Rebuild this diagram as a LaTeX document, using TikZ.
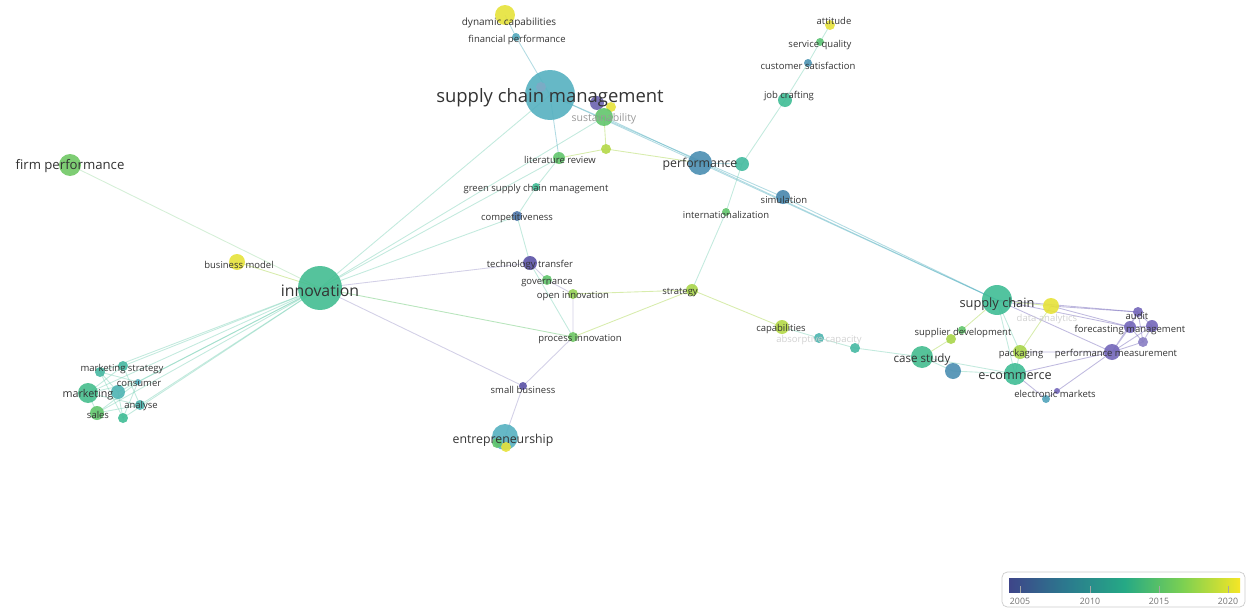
\documentclass[tikz,border=0pt]{standalone}
\usepackage{fontspec}
\setmainfont{Open Sans}
\usepackage{tikz}

\definecolor{vpurple}{HTML}{5B52A6}
\definecolor{vlilac}{HTML}{7366B9}
\definecolor{vblue}{HTML}{4786AD}
\definecolor{vteal}{HTML}{55B0C0}
\definecolor{vtealgreen}{HTML}{3FBC95}
\definecolor{vgreen}{HTML}{62C56C}
\definecolor{vlime}{HTML}{A8D54A}
\definecolor{vyellow}{HTML}{E6E23A}
\definecolor{vir0}{HTML}{3E4589}
\definecolor{vir1}{HTML}{2B7A8E}
\definecolor{vir2}{HTML}{25A985}
\definecolor{vir3}{HTML}{7BD052}
\definecolor{vir4}{HTML}{F5E626}

\pgfdeclarelayer{bg}
\pgfsetlayers{bg,main}
\pgfdeclarehorizontalshading{viridis}{100bp}{color(0bp)=(vir0); color(25bp)=(vir0); color(37.5bp)=(vir1); color(50bp)=(vir2); color(62.5bp)=(vir3); color(75bp)=(vir4); color(100bp)=(vir4)}

\begin{document}
\begin{tikzpicture}
	[x=0.02cm,y=-0.02cm,
	kw/.style 2 args={circle,fill=#2,fill opacity=0.9,minimum size=#1*0.04cm,inner sep=0pt},
	lbl/.style={font=\fontsize{#1}{#1}\selectfont,text=black!80,inner sep=0pt,yshift=-1.5pt},
	lbl/.default=5.4,
	faded/.style={font=\fontsize{5.4}{5.4}\selectfont,text=black!18,inner sep=0pt,yshift=-1.5pt},
	link/.style={draw=#1,draw opacity=0.45,line width=0.5pt},
	link/.default=vtealgreen!70,
	tick/.style={draw=black!35,line width=0.4pt},
	year/.style={font=\fontsize{5}{5}\selectfont,text=black!55,inner sep=0pt}]
	\useasboundingbox (0,0) rectangle (1249,609);

	% keywords: circles
	\node[kw={25}{vteal}] (scm) at (550,95) {};
	\node[kw={5}{vblue!70}] (scmin) at (541,87) {};
	\node[kw={7}{vpurple!90}] (purp) at (597,103) {};
	\node[kw={5}{vyellow}] (yelA) at (611,107) {};
	\node[kw={9}{vgreen}] (sust) at (604,117) {};
	\node[kw={10}{vyellow}] (dyn) at (505,15) {};
	\node[kw={4}{vteal!80!vblue}] (fin) at (516,37) {};
	\node[kw={6}{vgreen}] (litrev) at (559,158) {};
	\node[kw={5}{vlime!80!vyellow}] (yelB) at (606,149) {};
	\node[kw={12}{vblue!80!vteal}] (perf) at (700,163) {};
	\node[kw={7}{vtealgreen!80!vteal}] (perfB) at (742,164) {};
	\node[kw={4}{vtealgreen}] (gscm) at (536,187) {};
	\node[kw={5}{vblue!70!vpurple}] (comp) at (517,216) {};
	\node[kw={7}{vpurple}] (tech) at (530,263) {};
	\node[kw={5}{vgreen}] (gov) at (547,280) {};
	\node[kw={5}{vlime!70!vgreen}] (openi) at (573,294) {};
	\node[kw={6}{vlime}] (strat) at (692,290) {};
	\node[kw={5}{vgreen!80!vlime}] (proc) at (573,337) {};
	\node[kw={4}{vpurple}] (smallb) at (523,386) {};
	\node[kw={13}{vteal}] (entr) at (505,437) {};
	\node[kw={5}{vgreen}] (entrG) at (497,443) {};
	\node[kw={5}{vyellow}] (entrY) at (506,447) {};
	\node[kw={22}{vtealgreen!90!vgreen}] (innov) at (320,288) {};
	\node[kw={8}{vyellow}] (bizm) at (237,262) {};
	\node[kw={11}{vgreen!80!vlime}] (firm) at (70,165) {};
	\node[kw={10}{vtealgreen!80!vgreen}] (mkt) at (88,393) {};
	\node[kw={5}{vtealgreen!70!vteal}] (mktstr) at (123,366) {};
	\node[kw={5}{vtealgreen!70!vteal}] (mktB) at (100,372) {};
	\node[kw={7}{vteal!70!vtealgreen}] (mktC) at (118,392) {};
	\node[kw={3}{vteal}] (cons) at (138,382) {};
	\node[kw={5}{vteal!60!vtealgreen}] (anal) at (140,405) {};
	\node[kw={7}{vgreen}] (sales) at (97,413) {};
	\node[kw={5}{vtealgreen}] (mktD) at (123,418) {};
	\node[kw={7}{vtealgreen}] (job) at (785,100) {};
	\node[kw={4}{vblue!70!vteal}] (cust) at (808,63) {};
	\node[kw={4}{vgreen!80!vtealgreen}] (serv) at (820,42) {};
	\node[kw={5}{vyellow}] (att) at (830,25) {};
	\node[kw={7}{vblue}] (sim) at (783,197) {};
	\node[kw={4}{vgreen}] (intl) at (726,212) {};
	\node[kw={7}{vlime!80!vyellow}] (capab) at (782,327) {};
	\node[kw={5}{vteal!60!vtealgreen}] (absc) at (819,338) {};
	\node[kw={5}{vtealgreen!70!vteal}] (abscB) at (855,348) {};
	\node[kw={11}{vtealgreen!85!vgreen}] (case) at (922,357) {};
	\node[kw={8}{vblue!80!vteal}] (res) at (953,371) {};
	\node[kw={15}{vtealgreen}] (sc) at (997,300) {};
	\node[kw={8}{vyellow}] (data) at (1051,306) {};
	\node[kw={5}{vlime}] (supd) at (951,339) {};
	\node[kw={4}{vgreen}] (supdB) at (962,330) {};
	\node[kw={7}{vlime}] (pack) at (1020,352) {};
	\node[kw={8}{vlilac}] (pm) at (1112,352) {};
	\node[kw={11}{vtealgreen}] (ecom) at (1015,374) {};
	\node[kw={4}{vteal!70!vblue}] (elm) at (1046,399) {};
	\node[kw={3}{vlilac}] (elmB) at (1057,391) {};
	\node[kw={5}{vlilac}] (audit) at (1138,312) {};
	\node[kw={6}{vlilac}] (fore) at (1130,327) {};
	\node[kw={6}{vlilac}] (foreB) at (1152,326) {};
	\node[kw={5}{vlilac!85}] (pmB) at (1143,342) {};

	% links
	\begin{pgfonlayer}{bg}
	\draw[link] (innov.center) -- (scm.center);
	\draw[link] (innov.center) -- (sust.center);
	\draw[link] (innov.center) -- (litrev.center);
	\draw[link] (innov.center) -- (comp.center);
	\draw[link=vpurple!60] (innov.center) -- (tech.center);
	\draw[link=vgreen] (innov.center) -- (proc.center);
	\draw[link=vpurple!60] (innov.center) -- (smallb.center);
	\draw[link=vlime] (innov.center) -- (bizm.center);
	\draw[link=vgreen!60] (firm.center) -- (innov.center);
	\draw[link] (innov.center) -- (mkt.center);
	\draw[link] (innov.center) -- (mktstr.center);
	\draw[link] (innov.center) -- (mktB.center);
	\draw[link] (innov.center) -- (mktC.center);
	\draw[link] (innov.center) -- (cons.center);
	\draw[link] (innov.center) -- (anal.center);
	\draw[link] (innov.center) -- (sales.center);
	\draw[link] (innov.center) -- (mktD.center);
	\draw[link] (mkt.center) -- (mktstr.center) -- (anal.center) -- (sales.center) -- (mkt.center) -- (anal.center);
	\draw[link] (mktB.center) -- (mktD.center) -- (mktC.center) -- (mktB.center) -- (cons.center) -- (sales.center);
	\draw[link] (mkt.center) -- (cons.center) -- (mktD.center);
	\draw[link=vteal] (dyn.center) -- (fin.center) -- (scm.center);
	\draw[link=vteal] (scm.center) -- (litrev.center);
	\draw[link=vteal] (scm.center) -- (perf.center);
	\draw[link=vteal] (scm.center) -- (sim.center);
	\draw[link=vteal] (sust.center) -- (sc.center);
	\draw[link=vteal] (perf.center) -- (sc.center);
	\draw[link=vlime] (sust.center) -- (yelB.center) -- (litrev.center);
	\draw[link=vlime] (yelB.center) -- (perf.center);
	\draw[link] (litrev.center) -- (gscm.center) -- (comp.center) -- (tech.center);
	\draw[link=vpurple!60] (tech.center) -- (gov.center) -- (openi.center) -- (proc.center);
	\draw[link] (tech.center) -- (proc.center);
	\draw[link=vlime] (openi.center) -- (strat.center) -- (proc.center);
	\draw[link=vpurple!60] (proc.center) -- (smallb.center) -- (entr.center);
	\draw[link] (att.center) -- (serv.center) -- (cust.center) -- (job.center) -- (perfB.center) -- (intl.center) -- (strat.center);
	\draw[link=vteal] (perf.center) -- (perfB.center);
	\draw[link=vteal] (sim.center) -- (sc.center);
	\draw[link=vlime] (strat.center) -- (capab.center);
	\draw[link] (capab.center) -- (absc.center) -- (abscB.center) -- (case.center) -- (ecom.center);
	\draw[link] (case.center) -- (res.center) -- (ecom.center);
	\draw[link=vlime] (case.center) -- (supd.center) -- (supdB.center) -- (sc.center);
	\draw[link] (sc.center) -- (pack.center) -- (ecom.center);
	\draw[link] (sc.center) -- (ecom.center);
	\draw[link=vlime] (sc.center) -- (data.center) -- (pack.center);
	\draw[link=vlilac] (sc.center) -- (audit.center);
	\draw[link=vlilac] (sc.center) -- (fore.center);
	\draw[link=vlilac] (sc.center) -- (pm.center);
	\draw[link=vlilac] (data.center) -- (audit.center);
	\draw[link=vlilac] (data.center) -- (fore.center);
	\draw[link=vlilac] (pack.center) -- (pm.center) -- (ecom.center);
	\draw[link=vlilac] (ecom.center) -- (elm.center) -- (elmB.center) -- (pm.center);
	\draw[link=vlilac] (pm.center) -- (audit.center) -- (fore.center) -- (pm.center) -- (foreB.center) -- (audit.center) -- (pmB.center) -- (pm.center);
	\draw[link=vlilac] (fore.center) -- (foreB.center) -- (pmB.center) -- (fore.center);
	\end{pgfonlayer}

	% labels
	\node[lbl=10.5] (scm-l) at (550,95) {supply chain management};
	\node[faded,text=black!40,font=\fontsize{6}{6}\selectfont] (sust-l) at (604,116) {sustainability};
	\node[lbl=5.7] (dyn-l) at (509,20) {dynamic capabilities};
	\node[lbl] (fin-l) at (517,37) {financial performance};
	\node[lbl] (litrev-l) at (560,157) {literature review};
	\node[lbl=7] (perf-l) at (700,162) {performance};
	\node[lbl] (gscm-l) at (536,186) {green supply chain management};
	\node[lbl] (comp-l) at (517,216) {competitiveness};
	\node[lbl] (tech-l) at (530,262) {technology transfer};
	\node[lbl] (gov-l) at (547,280) {governance};
	\node[lbl] (openi-l) at (573,294) {open innovation};
	\node[lbl] (strat-l) at (680,290) {strategy};
	\node[lbl] (proc-l) at (580,337) {process innovation};
	\node[lbl] (smallb-l) at (523,387) {small business};
	\node[lbl=7] (entr-l) at (503,438) {entrepreneurship};
	\node[lbl=9] (innov-l) at (320,288) {innovation};
	\node[lbl] (bizm-l) at (239,262) {business model};
	\node[lbl=7.5] (firm-l) at (70,163) {firm performance};
	\node[lbl=6.1] (mkt-l) at (88,392) {marketing};
	\node[lbl] (mktstr-l) at (122,366) {marketing strategy};
	\node[lbl] (cons-l) at (139,381) {consumer};
	\node[lbl] (anal-l) at (141,403) {analyse};
	\node[lbl] (sales-l) at (98,412) {sales};
	\node[lbl] (job-l) at (789,93) {job crafting};
	\node[lbl] (cust-l) at (808,63) {customer satisfaction};
	\node[lbl] (serv-l) at (820,42) {service quality};
	\node[lbl] (att-l) at (834,18) {attitude};
	\node[lbl] (sim-l) at (784,197) {simulation};
	\node[lbl] (intl-l) at (726,212) {internationalization};
	\node[lbl] (capab-l) at (781,326) {capabilities};
	\node[faded] (absc-l) at (819,337) {absorptive capacity};
	\node[lbl=6.6] (case-l) at (922,357) {case study};
	\node[lbl=7.3] (sc-l) at (997,302) {supply chain};
	\node[faded] (data-l) at (1047,316) {data analytics};
	\node[lbl] (supd-l) at (963,330) {supplier development};
	\node[lbl] (pack-l) at (1021,351) {packaging};
	\node[lbl] (pm-l) at (1116,351) {performance measurement};
	\node[lbl=7.2] (ecom-l) at (1015,373) {e-commerce};
	\node[lbl] (elm-l) at (1055,391) {electronic markets};
	\node[lbl] (audit-l) at (1137,313) {audit};
	\node[lbl] (fore-l) at (1130,327) {forecasting management};

	% legend
	\draw[draw=black!20,fill=white,rounded corners=3pt] (1002,572) rectangle (1245,607);
	\shade[shading=viridis] (1009,578) rectangle (1240,592);
	\node[year] (y2005) at (1020,601) {2005};
	\node[year] (y2010) at (1090,601) {2010};
	\node[year] (y2015) at (1159,601) {2015};
	\node[year] (y2020) at (1228,601) {2020};
	\draw[tick] (1020,586) -- (1020,593);
	\draw[tick] (1090,586) -- (1090,593);
	\draw[tick] (1159,586) -- (1159,593);
	\draw[tick] (1228,586) -- (1228,593);
\end{tikzpicture}
\end{document}
